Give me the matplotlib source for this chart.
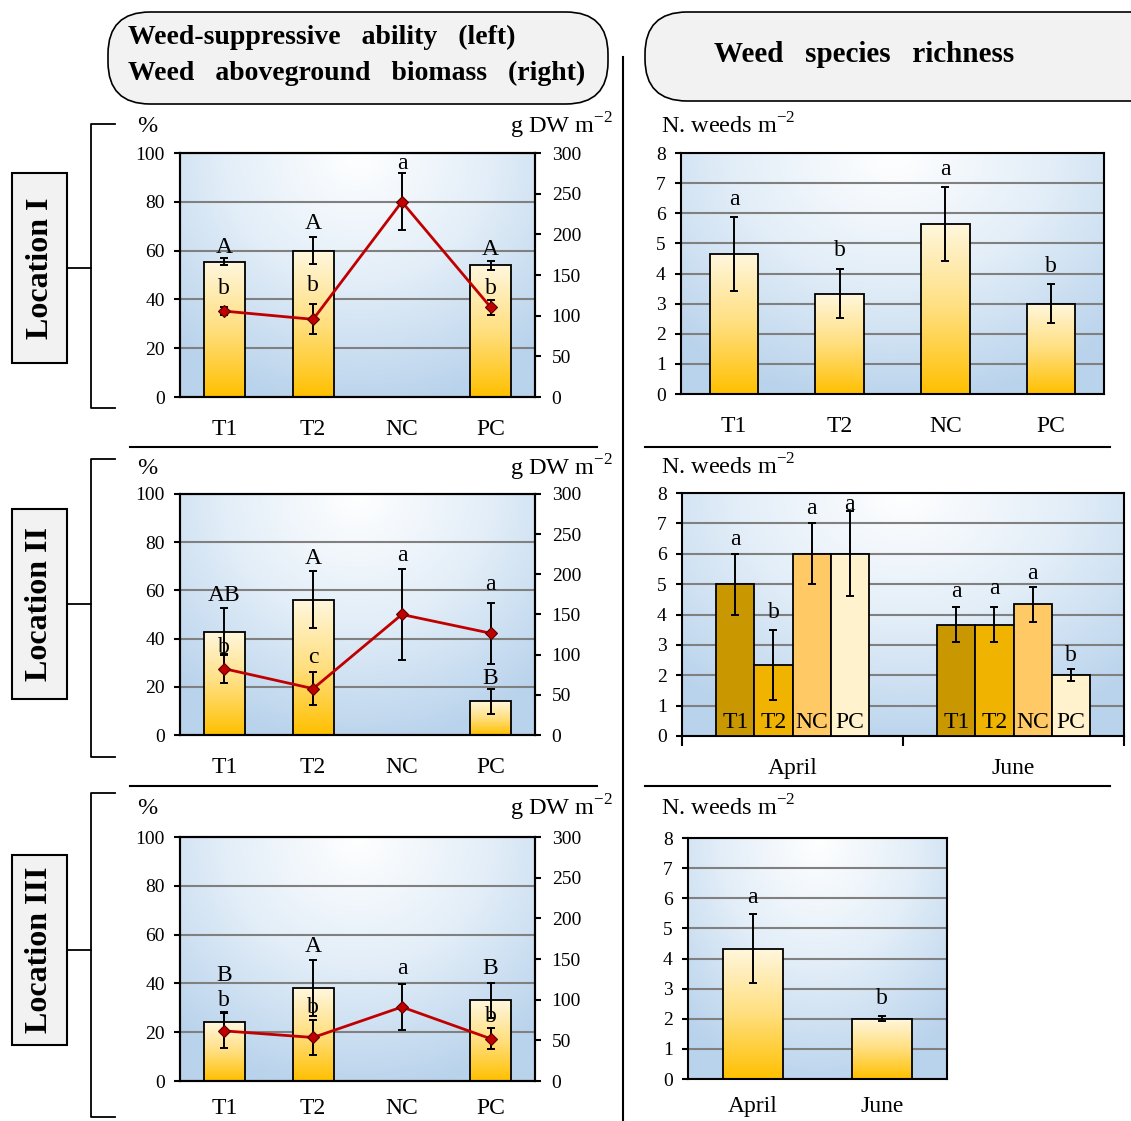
import numpy as np
import matplotlib
matplotlib.use('Agg')
import matplotlib.pyplot as plt
from matplotlib.colors import LinearSegmentedColormap
from matplotlib.patches import FancyBboxPatch, Rectangle

plt.rcParams['font.family'] = ['Liberation Serif', 'DejaVu Serif']
plt.rcParams['mathtext.fontset'] = 'custom'
plt.rcParams['mathtext.rm'] = 'Liberation Serif'

# ---- data ----
treat = ['T1', 'T2', 'NC', 'PC']
months = ['April', 'June']

# weed-suppressive ability (%) - bars, NC has no bar
loc1_supp = [55.5, 60.0, np.nan, 54.0]
loc1_supp_err = [1.5, 5.5, np.nan, 1.9]
loc2_supp = [42.9, 56.1, np.nan, 14.0]
loc2_supp_err = [9.7, 11.9, np.nan, 5.2]
loc3_supp = [24.1, 38.0, np.nan, 33.0]
loc3_supp_err = [4.0, 11.5, np.nan, 7.1]

# weed aboveground biomass (g DW m-2) - line
loc1_bio = [105.6, 95.5, 240.0, 110.4]
loc1_bio_err = [5.0, 18.4, 35.0, 9.3]
loc2_bio = [82.5, 57.7, 150.0, 126.7]
loc2_bio_err = [18.0, 20.8, 56.5, 37.8]
loc3_bio = [61.6, 53.5, 91.0, 52.0]
loc3_bio_err = [21.5, 21.0, 28.8, 12.8]

# letters of significance
loc1_supp_let = ['A', 'A', '', 'A']
loc1_bio_let = ['b', 'b', 'a', 'b']
loc2_supp_let = ['AB', 'A', '', 'B']
loc2_bio_let = ['b', 'c', 'a', 'a']
loc3_supp_let = ['B', 'A', '', 'B']
loc3_bio_let = ['b', 'b', 'a', 'b']

# weed species richness (N. weeds m-2)
loc1_rich = [4.65, 3.33, 5.65, 3.0]
loc1_rich_err = [1.22, 0.82, 1.22, 0.64]
loc1_rich_let = ['a', 'b', 'a', 'b']

loc2_april = [5.0, 2.33, 6.0, 6.0]
loc2_april_err = [1.0, 1.15, 1.0, 1.4]
loc2_april_let = ['a', 'b', 'a', 'a']
loc2_june = [3.67, 3.67, 4.33, 2.0]
loc2_june_err = [0.58, 0.58, 0.58, 0.2]
loc2_june_let = ['a', 'a', 'a', 'b']

loc3_rich = [4.33, 2.0]
loc3_rich_err = [1.15, 0.09]
loc3_rich_let = ['a', 'b']

# heights (baselines) of the letters
loc1_supp_let_y = [59.1, 68.7, 0, 58.2]
loc1_bio_let_y = [42.1, 43.6, 93.3, 42.1]
loc2_supp_let_y = [55.4, 70.9, 0, 21.1]
loc2_bio_let_y = [33.9, 29.8, 72.3, 60.2]
loc3_supp_let_y = [41.0, 53.0, 0, 43.7]
loc3_bio_let_y = [30.8, 27.7, 43.7, 24.0]
loc1_rich_let_y = [6.28, 4.57, 7.28, 4.05]
loc2_april_let_y = [6.30, 3.88, 7.32, 7.45]
loc2_june_let_y = [4.59, 4.68, 5.17, 2.48]
loc3_rich_let_y = [5.83, 2.48]

# ---- styles ----
W, H = 1131, 1121
fig = plt.figure(figsize=(W / 100, H / 100), dpi=100)

bg_cmap = LinearSegmentedColormap.from_list('bg', ['#ffffff', '#e3eef8', '#b9d3ec'])
bar_cmap = LinearSegmentedColormap.from_list('bar', ['#ffc000', '#ffdf7f', '#fff7de'])
group_colors = ['#c99700', '#f0b400', '#ffc966', '#fff2cc']
red = '#c00000'
TICK = 14
CAT = 17
LET = 17
UNIT = 17.5


def rect_px(x0, y0, x1, y1):
    return [x0 / W, 1 - y1 / H, (x1 - x0) / W, (y1 - y0) / H]


def add_bg_axes(rect, xpad=16):
    bg = fig.add_axes(rect)
    u = np.linspace(0, 1, 300)
    U, V = np.meshgrid(u, u)
    d = np.sqrt(((U - 0.5) / 0.75) ** 2 + ((1 - V) / 1.05) ** 2)
    bg.imshow(np.clip(d, 0, 1), origin='lower', cmap=bg_cmap, vmin=0, vmax=1,
              aspect='auto', extent=(0, 1, 0, 1))
    bg.axis('off')
    ax = fig.add_axes(rect)
    ax.patch.set_visible(False)
    for s in ax.spines.values():
        s.set_linewidth(1.5)
    ax.set_axisbelow(True)
    ax.yaxis.grid(True, color='#808080', lw=1.5)
    ax.tick_params(axis='y', direction='out', length=4.5, width=1.5,
                   labelsize=TICK, pad=6.5)
    ax.tick_params(axis='x', length=0, labelsize=CAT, pad=xpad)
    return ax


grad = np.linspace(0, 1, 256).reshape(-1, 1)


def grad_bars(ax, x, h, w):
    bars = ax.bar(x, h, w, color='none', edgecolor='black', linewidth=1.3, zorder=3)
    for b in bars:
        im = ax.imshow(grad, origin='lower', cmap=bar_cmap, aspect='auto', zorder=2,
                       extent=(b.get_x(), b.get_x() + b.get_width(), 0, b.get_height()))
        im.set_clip_path(b)


def err(ax, x, y, e):
    ax.errorbar(x, y, yerr=e, fmt='none', ecolor='black', elinewidth=1.4,
                capsize=3, capthick=1.4, zorder=4)


def left_panel(rect, supp, supp_err, bio, bio_err, s_let, s_y, b_let, b_y, xpad=16):
    ax = add_bg_axes(rect, xpad)
    x = np.arange(len(treat))
    keep = [i for i in x if not np.isnan(supp[i])]
    grad_bars(ax, [x[i] for i in keep], [supp[i] for i in keep], 0.46)
    err(ax, [x[i] for i in keep], [supp[i] for i in keep], [supp_err[i] for i in keep])
    for i in x:
        if s_let[i]:
            ax.text(i, s_y[i], s_let[i], ha='center', va='baseline', fontsize=LET, zorder=5)
        ax.text(i, b_y[i], b_let[i], ha='center', va='baseline', fontsize=LET, zorder=5)
    ax.set_xlim(-0.5, 3.5)
    ax.set_ylim(0, 100)
    ax.set_yticks(range(0, 101, 20))
    ax.set_xticks(x)
    ax.set_xticklabels(treat)

    ax2 = ax.twinx()
    ax2.errorbar(x, bio, yerr=bio_err, fmt='none', ecolor='black', elinewidth=1.4,
                 capsize=3, capthick=1.4, zorder=3)
    ax2.plot(x, bio, '-', color=red, lw=2, zorder=4)
    ax2.plot(x, bio, 'D', color=red, mec='#5a0000', mew=0.8, ms=6, zorder=5)
    ax2.set_ylim(0, 300)
    ax2.set_yticks(range(0, 301, 50))
    ax2.tick_params(axis='y', direction='out', length=4.5, width=1.5,
                    labelsize=TICK, pad=7.5)
    for s in ax2.spines.values():
        s.set_linewidth(1.5)
    return ax


def right_simple(rect, cats, vals, errs, let, let_y, xpad=16):
    ax = add_bg_axes(rect, xpad)
    x = np.arange(len(cats))
    grad_bars(ax, x, vals, 0.46)
    err(ax, x, vals, errs)
    for i in x:
        ax.text(i, let_y[i], let[i], ha='center', va='baseline', fontsize=LET, zorder=5)
    ax.set_xlim(-0.5, len(cats) - 0.5)
    ax.set_ylim(0, 8)
    ax.set_yticks(range(9))
    ax.set_xticks(x)
    ax.set_xticklabels(cats)
    return ax


# ---- overlay with the frame decorations ----
ov = fig.add_axes([0, 0, 1, 1])
ov.set_xlim(0, W)
ov.set_ylim(H, 0)
ov.axis('off')

ov.add_patch(FancyBboxPatch((108, 12), 500, 92, boxstyle='round,pad=0,rounding_size=42',
                            fc='#f2f2f2', ec='black', lw=1.2))
ov.add_patch(FancyBboxPatch((645, 12), 540, 89, boxstyle='round,pad=0,rounding_size=42',
                            fc='#f2f2f2', ec='black', lw=1.2))
ov.text(128, 37, 'Weed-suppressive   ability   (left)', fontsize=20, fontweight='bold',
        ha='left', va='center')
ov.text(128, 73, 'Weed   aboveground   biomass   (right)', fontsize=20, fontweight='bold',
        ha='left', va='center')
ov.text(864, 55, 'Weed   species   richness', fontsize=21, fontweight='bold',
        ha='center', va='center')

ov.plot([623, 623], [57, H], color='black', lw=1.5)
for yy in [447, 786]:
    ov.plot([130, 597], [yy, yy], color='black', lw=1.5)
    ov.plot([645, 1110], [yy, yy], color='black', lw=1.5)

locations = ['Location I', 'Location II', 'Location III']
brackets = [(124, 408, 268), (459, 757, 604), (793, 1117, 950)]
for name, (top, bot, mid) in zip(locations, brackets):
    ov.plot([115, 91, 91, 115], [top, top, bot, bot], color='black', lw=1.3)
    ov.plot([67, 91], [mid, mid], color='black', lw=1.3)
    ov.add_patch(Rectangle((12, mid - 95), 55, 190, fc='#f2f2f2', ec='black', lw=1.5))
    ov.text(40, mid, name, rotation=90, fontsize=23, fontweight='bold',
            ha='center', va='center')

unit = r'g DW m$^{\mathregular{-2}}$'
nunit = r'N. weeds m$^{\mathregular{-2}}$'
for yy_l, yy_r in [(126, 126), (468, 467), (808, 808)]:
    ov.text(137, yy_l, '%', fontsize=UNIT, ha='left', va='center')
    ov.text(613, yy_l, unit, fontsize=UNIT, ha='right', va='center')
    ov.text(661, yy_r, nunit, fontsize=UNIT, ha='left', va='center')

# ---- left column: suppressive ability + biomass ----
left_panel(rect_px(180, 153, 535, 397), loc1_supp, loc1_supp_err, loc1_bio, loc1_bio_err,
           loc1_supp_let, loc1_supp_let_y, loc1_bio_let, loc1_bio_let_y)
left_panel(rect_px(180, 494, 535, 735), loc2_supp, loc2_supp_err, loc2_bio, loc2_bio_err,
           loc2_supp_let, loc2_supp_let_y, loc2_bio_let, loc2_bio_let_y)
left_panel(rect_px(180, 837, 535, 1081), loc3_supp, loc3_supp_err, loc3_bio, loc3_bio_err,
           loc3_supp_let, loc3_supp_let_y, loc3_bio_let, loc3_bio_let_y, xpad=12)

# ---- right column: species richness ----
right_simple(rect_px(681, 153, 1104, 394), treat, loc1_rich, loc1_rich_err,
             loc1_rich_let, loc1_rich_let_y)
right_simple(rect_px(688, 838, 947, 1079), months, loc3_rich, loc3_rich_err,
             loc3_rich_let, loc3_rich_let_y, xpad=12)

# location II, grouped by month
ax = add_bg_axes(rect_px(682, 493, 1124, 736))
bw = 0.172
for g, (vals, errs, let, let_y) in enumerate([(loc2_april, loc2_april_err, loc2_april_let, loc2_april_let_y),
                                               (loc2_june, loc2_june_err, loc2_june_let, loc2_june_let_y)]):
    xs = g + (np.arange(len(treat)) - 1.5) * bw
    ax.bar(xs, vals, bw, color=group_colors, edgecolor='black', linewidth=1.3, zorder=3)
    err(ax, xs, vals, errs)
    for i, xx in enumerate(xs):
        ax.text(xx, let_y[i], let[i], ha='center', va='baseline', fontsize=LET, zorder=5)
        ax.text(xx, 0.26, treat[i], ha='center', va='baseline', fontsize=17, zorder=5)
ax.set_xlim(-0.5, 1.5)
ax.set_ylim(0, 8)
ax.set_yticks(range(9))
ax.set_xticks([0, 1])
ax.set_xticklabels(months)
ax.set_xticks([-0.5, 0.5, 1.5], minor=True)
ax.tick_params(axis='x', which='minor', direction='out', length=7, width=1.5)

fig.savefig('out.png', dpi=100)
